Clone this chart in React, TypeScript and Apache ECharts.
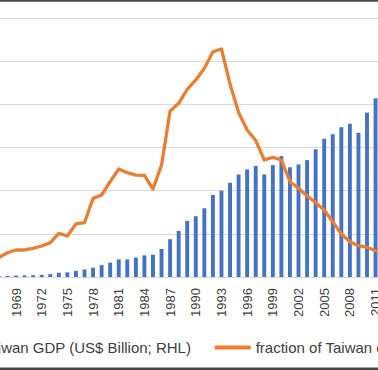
import React, { useEffect, useRef } from "react";
import * as echarts from "echarts";

const years: string[] = [];
for (let y = 1967; y <= 2012; y++) years.push(String(y));

// Taiwan GDP, US$ billion (right-hand axis), 1967..2012
const gdp = [
  3, 3, 4, 4.5, 5, 6, 8, 12, 13, 17, 21, 26, 33, 40, 49, 49, 54, 60, 62, 78,
  105, 128, 156, 169, 191, 228, 240, 262, 285, 299, 309, 285, 311, 336, 305,
  313, 325, 355, 384, 397, 416, 426, 401, 457, 497, 505,
];

// fraction series (left-hand axis), 1967..2012
const fraction = [
  2.26, 2.81, 3.13, 3.13, 3.32, 3.59, 3.97, 5.06, 4.75, 6.14, 6.29, 9.11, 9.5,
  11.04, 12.51, 12.08, 11.81, 11.78, 10.19, 12.97, 19.22, 20.12, 21.74, 22.82,
  24.17, 26.09, 26.41, 22.35, 19.05, 17.03, 15.81, 13.55, 13.86, 13.55, 11.04,
  10.27, 9.38, 8.61, 7.76, 6.41, 4.98, 4.09, 3.63, 3.44, 3.05, 2.9,
];

const gdpName = "Taiwan GDP (US$ Billion; RHL)";
const fracName = "fraction of Taiwan exports (LHL)";

export default function App() {
  const ref = useRef<HTMLDivElement>(null);
  useEffect(() => {
    document.body.style.margin = "0";
    const chart = echarts.init(ref.current!, null, { renderer: "svg" });
    const font = "'Liberation Sans', Arial, sans-serif";
    chart.setOption({
      animation: false,
      backgroundColor: "#ffffff",
      textStyle: { fontFamily: font },
      grid: { left: 54.6, right: 71.6, top: 18, bottom: 93 },
      legend: [
        {
          data: [{ name: gdpName, icon: "rect" }],
          left: 23,
          top: 335,
          itemWidth: 9,
          itemHeight: 9,
          itemGap: 5,
          textStyle: { fontSize: 15, color: "#404040", fontFamily: font },
        },
        {
          data: [{ name: fracName, icon: "rect" }],
          left: 269.7,
          top: 335,
          itemWidth: 36,
          itemHeight: 4,
          textStyle: { fontSize: 15, color: "#404040", fontFamily: font },
        },
      ],
      xAxis: {
        type: "category",
        data: years,
        boundaryGap: true,
        axisTick: { show: false },
        axisLine: { lineStyle: { color: "#d9d9d9", width: 1 } },
        axisLabel: {
          rotate: 90,
          margin: 11,
          fontSize: 13,
          color: "#404040",
          fontFamily: font,
          interval: (_i: number, v: string) => (Number(v) - 1969) % 3 === 0,
        },
      },
      yAxis: [
        {
          type: "value",
          min: 0,
          max: 30,
          interval: 5,
          axisLabel: { show: false },
          axisLine: { show: false },
          axisTick: { show: false },
          splitLine: { lineStyle: { color: "#d9d9d9", width: 1 } },
        },
        {
          type: "value",
          min: 0,
          max: 720,
          interval: 120,
          position: "right",
          axisLabel: { show: false },
          axisLine: { show: false },
          axisTick: { show: false },
          splitLine: { show: false },
        },
      ],
      series: [
        {
          name: gdpName,
          type: "bar",
          yAxisIndex: 1,
          data: gdp,
          barWidth: 3.9,
          itemStyle: { color: "#4472C4" },
          z: 1,
        },
        {
          name: fracName,
          type: "line",
          yAxisIndex: 0,
          data: fraction,
          symbol: "none",
          lineStyle: { color: "#ED7D31", width: 3.3, join: "round", cap: "round" },
          itemStyle: { color: "#ED7D31" },
          z: 3,
        },
      ],
      graphic: [
        { type: "rect", shape: { x: 0, y: 0, width: 520, height: 1.8 }, style: { fill: "#474747" } },
        { type: "rect", shape: { x: 0, y: 367.6, width: 520, height: 2.4 }, style: { fill: "#474747" } },
      ],
    });
    return () => chart.dispose();
  }, []);
  return (
    <div style={{ position: "fixed", left: 0, top: 0, width: 378, height: 370, overflow: "hidden", background: "#fff" }}>
      <div ref={ref} style={{ position: "absolute", left: -60, top: 0, width: 520, height: 370 }} />
    </div>
  );
}
